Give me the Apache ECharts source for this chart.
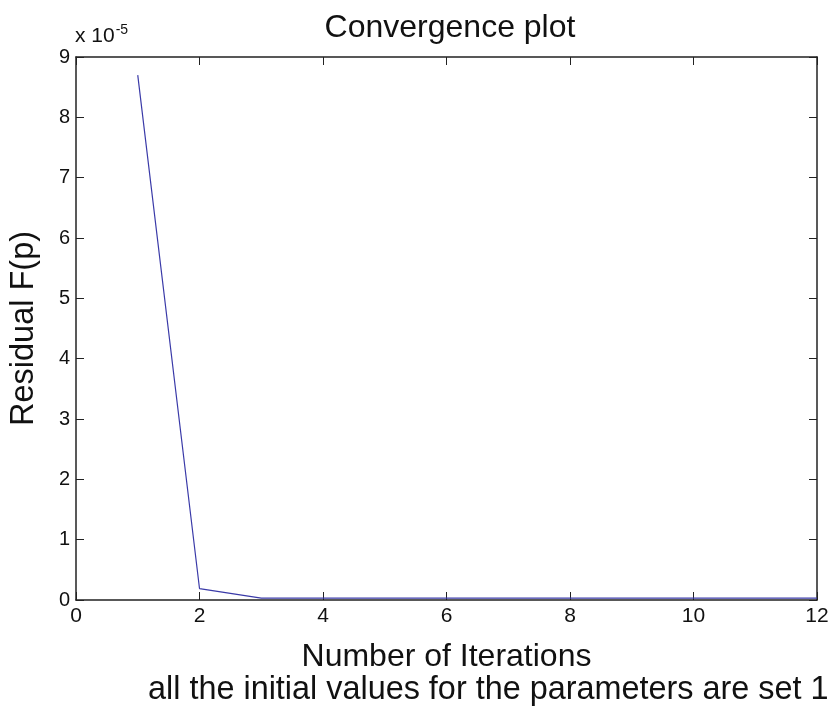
<!DOCTYPE html>
<html>
<head>
<meta charset="utf-8">
<script src="https://cdn.jsdelivr.net/npm/echarts@6/dist/echarts.min.js"></script>
<style>
  html, body { margin: 0; padding: 0; background: #fff; }
  #chart { width: 837px; height: 714px; }
</style>
</head>
<body>
<div id="chart"></div>
<script>
// Iteration numbers and residuals (units of 1e-5)
var iterations = [1, 2, 3, 4, 5, 6, 7, 8, 9, 10, 11, 12];
var residuals = [8.7, 0.19, 0.03, 0.03, 0.03, 0.03, 0.03, 0.03, 0.03, 0.03, 0.03, 0.03];
var xTicks = [0, 2, 4, 6, 8, 10, 12];
var yTicks = [0, 1, 2, 3, 4, 5, 6, 7, 8, 9];

var FONT = 'Liberation Sans, Arial, sans-serif';
var chart = echarts.init(document.getElementById('chart'));

var points = iterations.map(function (it, i) { return [it, residuals[i]]; });

var tickStyle = { show: true, inside: true, length: 8, lineStyle: { color: '#222', width: 1 } };
var frameLine = { show: true, onZero: false, lineStyle: { color: '#222', width: 1.5 } };

chart.setOption({
  backgroundColor: '#ffffff',
  animation: false,
  grid: { left: 76, right: 20, top: 57, bottom: 114, show: false, containLabel: false, outerBoundsMode: 'none' },
  title: {
    text: 'Convergence plot',
    left: 445, top: 7, textAlign: 'center',
    textStyle: { fontFamily: FONT, fontSize: 32, fontWeight: 'normal', color: '#111' }
  },
  xAxis: [{
    type: 'value', min: xTicks[0], max: xTicks[xTicks.length - 1], interval: 2, position: 'bottom',
    axisLine: frameLine, axisTick: tickStyle, splitLine: { show: false },
    axisLabel: { fontFamily: FONT, fontSize: 21, color: '#111', margin: 6 },
    name: 'Number of Iterations', nameLocation: 'middle', nameGap: 41,
    nameTextStyle: { fontFamily: FONT, fontSize: 32, color: '#111' }
  }, {
    type: 'value', min: xTicks[0], max: xTicks[xTicks.length - 1], interval: 2, position: 'top',
    axisLine: frameLine, axisTick: tickStyle, axisLabel: { show: false }, splitLine: { show: false }
  }],
  yAxis: [{
    type: 'value', min: yTicks[0], max: yTicks[yTicks.length - 1], interval: 1, position: 'left',
    axisLine: frameLine, axisTick: tickStyle, splitLine: { show: false },
    axisLabel: { fontFamily: FONT, fontSize: 20, color: '#111', margin: 6 },
    name: 'Residual F(p)', nameLocation: 'middle', nameGap: 35, nameRotate: 90,
    nameTextStyle: { fontFamily: FONT, fontSize: 32.5, color: '#111' }
  }, {
    type: 'value', min: yTicks[0], max: yTicks[yTicks.length - 1], interval: 1, position: 'right',
    axisLine: frameLine, axisTick: tickStyle, axisLabel: { show: false }, splitLine: { show: false }
  }],
  graphic: [{
    type: 'text', left: 75, top: 23,
    style: {
      text: '{b|x 10}{s|-5}',
      rich: {
        b: { fontFamily: FONT, fontSize: 21, fill: '#111', verticalAlign: 'bottom' },
        s: { fontFamily: FONT, fontSize: 14, fill: '#111', verticalAlign: 'top', padding: [0, 0, 10, 1] }
      }
    }
  }, {
    type: 'text', left: 148, top: 674,
    style: {
      text: 'all the initial values for the parameters are set 1',
      fontFamily: FONT, fontSize: 32.4, fill: '#111'
    }
  }],
  series: [{
    type: 'line', xAxisIndex: 0, yAxisIndex: 0,
    data: points, showSymbol: false, symbol: 'none',
    lineStyle: { color: '#3a3aa8', width: 1.2 }
  }]
});
</script>
</body>
</html>
